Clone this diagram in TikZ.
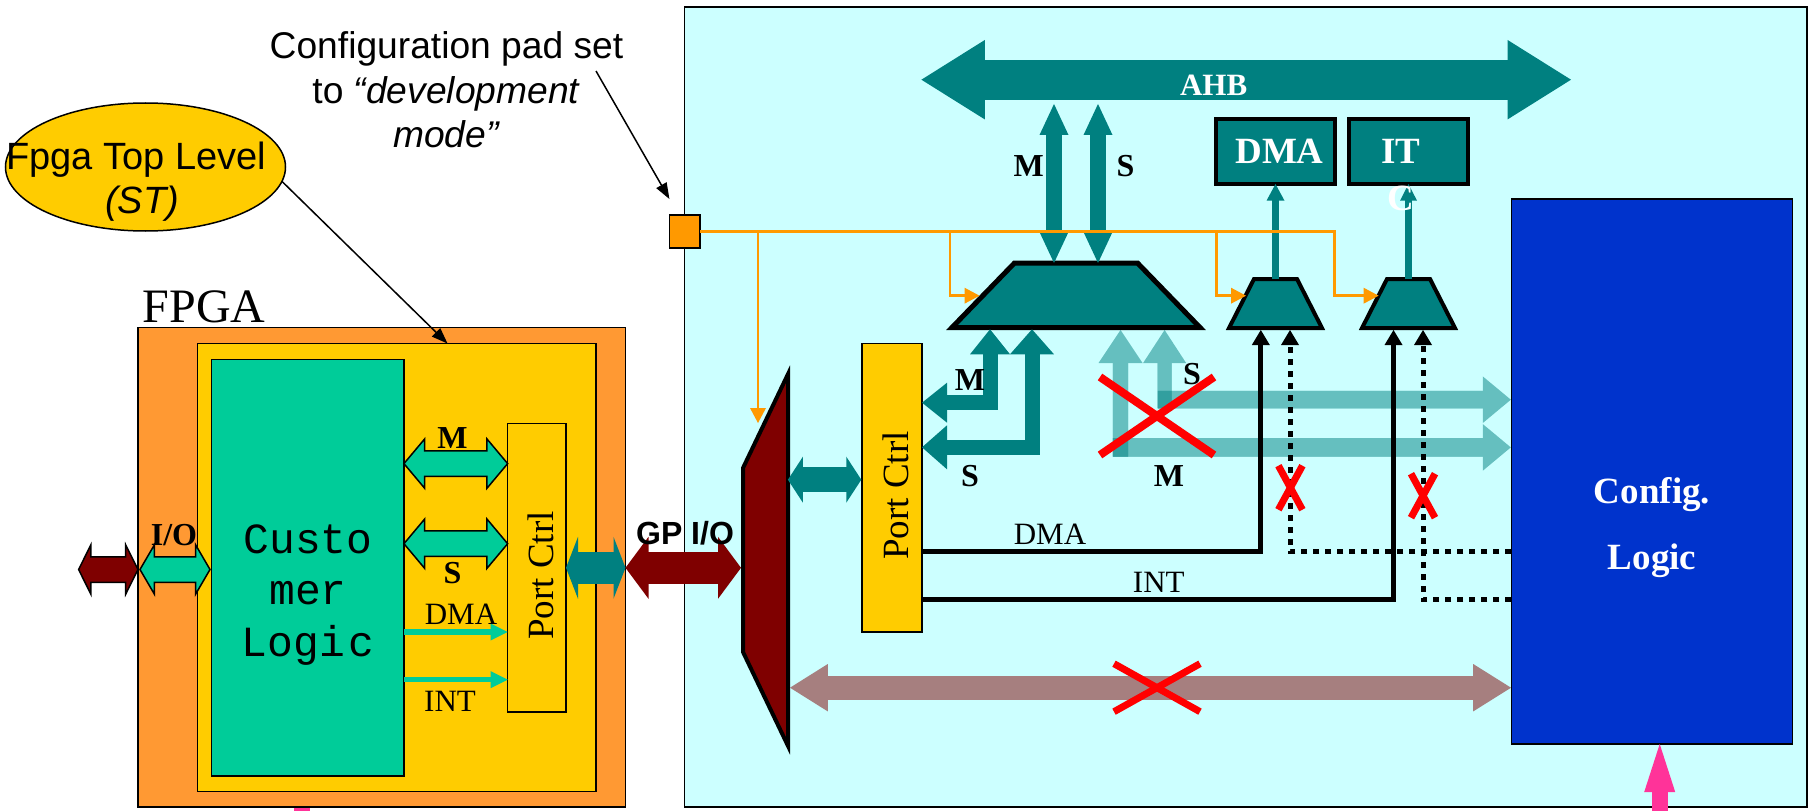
\documentclass[tikz,border=0pt]{standalone}
\usepackage{fontspec}
\setmainfont{Liberation Serif}
\setsansfont{Liberation Sans}
\setmonofont{Liberation Mono}
\usetikzlibrary{arrows.meta,shapes.geometric,shapes.arrows}

\definecolor{panelcyan}{HTML}{CCFFFF}
\definecolor{fpgaorange}{HTML}{FF9933}
\definecolor{coreyellow}{HTML}{FFCC00}
\definecolor{logicgreen}{HTML}{00CC99}
\definecolor{busteal}{HTML}{008080}
\definecolor{iodark}{HTML}{7F0000}
\definecolor{padorange}{HTML}{FF9900}
\definecolor{cfgblue}{HTML}{0033CC}
\definecolor{deadbrown}{HTML}{A67F7F}
\definecolor{pinkin}{HTML}{FF3399}

\tikzset{
  block/.style n args={3}{draw=black,line width=1.5pt,fill=#1,inner sep=0pt,outer sep=0pt,minimum width=#2,minimum height=#3},
  mux/.style n args={4}{draw=black,fill=busteal,line width=#1,trapezium,trapezium left angle=#2,trapezium right angle=#2,inner xsep=#3,inner ysep=#4,outer sep=0pt},
  twoway/.style n args={3}{line width=#1pt,arrows={Triangle[length=#2pt,width=#3pt,line width=0pt]-Triangle[length=#2pt,width=#3pt,line width=0pt]},postaction={draw,arrows=-,shorten <=#2pt-1pt,shorten >=#2pt-1pt}},
  oneway/.style n args={3}{line width=#1pt,arrows={-Triangle[length=#2pt,width=#3pt,line width=0pt]},postaction={draw,arrows=-,shorten >=#2pt-1pt}},
  linebus/.style n args={3}{draw=black,fill=#1,line width=1.5pt,double arrow,double arrow tip angle=#2,double arrow head extend=12pt,inner sep=0pt,inner ysep=12pt,outer sep=0pt,minimum height=#3},
  padline/.style={padorange,oneway={2.7}{15}{16}},
  sigline/.style={black,oneway={5}{15}{18}},
  dotline/.style={sigline,dash pattern=on 6pt off 6pt},
  callout/.style={black,line width=1.5pt,arrows={-Triangle[length=16pt,width=12pt,line width=0pt]}},
  redcross/.style={red,line width=#1},
  lab/.style={font=\fontsize{31}{31}\selectfont,anchor=base,inner sep=0pt},
  boldlab/.style={font=\fontsize{32}{32}\selectfont\bfseries,anchor=base,inner sep=0pt},
  whitelab/.style={font=\fontsize{37}{37}\selectfont\bfseries,text=white,anchor=base,inner sep=0pt},
  portlab/.style={font=\fontsize{37}{37}\selectfont,rotate=90,inner sep=0pt},
  armlab/.style={font=\fontsize{37.2}{44.5}\selectfont\sffamily,align=center,inner sep=0pt},
  toplab/.style={font=\fontsize{38}{38}\selectfont\sffamily,anchor=base,inner sep=0pt}
}

\begin{document}
\begin{tikzpicture}[x=1pt,y=-1pt]
\useasboundingbox (0,0) rectangle (1810,810.5);

% Pink inputs at the foot of the page
\coordinate (stubTop) at (302,800);
\coordinate (stubBot) at (302,812);
\draw [pinkin,line width=16pt] (stubTop) -- (stubBot);

% The two big frames
\node [block={panelcyan}{1122.4}{800}] (panel) at (1245.8,407) {};
\node [block={fpgaorange}{487.5}{479.5}] (fpga) at (381.75,567.25) {};
\node [block={coreyellow}{398.5}{448.2}] (fpgaTop) at (396.75,567.6) {};
\node [block={logicgreen}{192.3}{416.3}] (custLogic) at (307.85,567.85) {};
\node [block={coreyellow}{58.3}{288.5}] (portLeft) at (536.85,567.75) {};
\node [portlab] (portLeftLab) at (540.5,575.6) {Port Ctrl};
\node [font=\fontsize{43}{51.5}\selectfont\ttfamily,align=center,inner sep=0pt] (custLab) at (308,595) {Custo\\mer\\Logi{\fontsize{6}{6}\selectfont\ }c};
\node [lab,font=\fontsize{48}{48}\selectfont] (fpgaLab) at (204,322) {FPGA};

% Buses inside the FPGA
\node [linebus={logicgreen}{100}{103.7}] (mBus) at (455.8,463.6) {};
\node [linebus={logicgreen}{100}{103.7}] (sBus) at (455.8,543.7) {};
\node [linebus={iodark}{127}{59.4}] (extBus) at (108.3,569.5) {};
\node [linebus={logicgreen}{119.5}{70}] (ioBus) at (175,569.5) {};
\coordinate (dmaLeftA) at (404,632);
\coordinate (dmaLeftB) at (507.7,632);
\coordinate (intLeftA) at (404,679.7);
\coordinate (intLeftB) at (507.7,679.7);
\draw [logicgreen,oneway={5.5}{17}{17}] (dmaLeftA) -- (dmaLeftB);
\draw [logicgreen,oneway={5.5}{17}{17}] (intLeftA) -- (intLeftB);
\foreach \lx/\ly/\ltxt/\lname in {452.5/448.5/M/mLab,452.5/583/S/sLab,174/545/I\slash O/ioLab} {
  \node [boldlab] (\lname) at (\lx,\ly) {\ltxt};
}
\node [lab] (dmaLeftLab) at (461,624.4) {DMA};
\node [lab] (intLeftLab) at (450,711) {INT};

% Link from the FPGA to the pad mux
\node [mux={4pt}{25.6}{92pt}{22.5pt},fill=iodark,rotate=90] (padMux) at (765.5,560) {};
\coordinate (gpA) at (566,567.8);
\coordinate (gpB) at (625.5,567.8);
\coordinate (gpC) at (741,567.8);
\draw [busteal,twoway={32}{12}{62}] (gpA) -- (gpB);
\draw [iodark,twoway={32}{23}{62}] (gpB) -- (gpC);
\node [boldlab,font=\fontsize{32}{32}\selectfont\sffamily\bfseries] (gpLab) at (685,544) {GP I/O};

% Top of the panel
\coordinate (ahbL) at (921.4,79.7);
\coordinate (ahbR) at (1571,79.7);
\draw [busteal,twoway={40}{63.4}{79.4}] (ahbL) -- (ahbR);
\node [whitelab,font=\fontsize{31}{31}\selectfont\bfseries] (ahbLab) at (1213.6,96) {AHB};
\node [block={busteal}{119}{65},line width=4.5pt] (dmaBox) at (1275.5,151.5) {};
\node [block={busteal}{119}{65},line width=4.5pt] (itBox) at (1408.5,151.5) {};
\node [whitelab] (dmaLab) at (1279.5,164) {DMA};
\node [whitelab] (itLab) at (1401,164) {IT};

% Muxes
\node [mux={5pt}{45.9}{61.5pt}{32.25pt}] (bigMux) at (1076,295.25) {};
\node [mux={4pt}{63}{21.5pt}{24.5pt}] (dmaMux) at (1275.5,303.5) {};
\node [mux={4pt}{63}{21.5pt}{24.5pt}] (itMux) at (1408.5,303.5) {};

\coordinate (mBusTop) at (1054,104);
\coordinate (mBusBot) at (1054,263);
\coordinate (sBusTop) at (1098,104);
\coordinate (sBusBot) at (1098,263);
\draw [busteal,twoway={15.2}{31}{29}] (mBusTop) -- (mBusBot);
\draw [busteal,twoway={15.2}{31}{29}] (sBusTop) -- (sBusBot);
\draw [busteal,oneway={6.2}{16.7}{18}] (dmaMux.north) -- (dmaBox.south);
\draw [busteal,oneway={6.2}{16.7}{17}] (itMux.north) -- (itBox.south);
\node [whitelab] (itLabB) at (1401,210) {C};
\node [boldlab] (ahbMLab) at (1028.6,176) {M};
\node [boldlab] (ahbSLab) at (1125.4,176) {S};

% The development mode pad and its lines
\node [block={padorange}{30.6}{33}] (cfgPad) at (684.7,231.5) {};
\coordinate (padTee) at (1334.8,231.5);
\coordinate (bigTip) at (979.5,295.7);
\coordinate (dmaTip) at (1246,295.7);
\coordinate (itcTip) at (1378.6,295.7);
\coordinate (bigTee) at (950,231.5);
\coordinate (dmaTee) at (1216.5,231.5);
\coordinate (muxTee) at (758,231.5);
\coordinate (muxTip) at (758,423);
\draw [padline] (cfgPad.east) -- (padTee) |- (itcTip);
\draw [padline] (bigTee) |- (bigTip);
\draw [padline] (dmaTee) |- (dmaTip);
\draw [padline] (muxTee) -- (muxTip);

% Port control on the panel
\node [block={coreyellow}{60.2}{288.7}] (portRight) at (891.9,487.65) {};
\node [portlab] (portRightLab) at (895.6,495.5) {Port Ctrl};
\coordinate (muxLinkA) at (787.9,479.7);
\coordinate (muxLinkB) at (861.3,479.7);
\draw [busteal,twoway={25}{15}{46}] (muxLinkA) -- (muxLinkB);

\coordinate (mPort) at (922,402.7);
\coordinate (mMux) at (990,329.3);
\coordinate (sPort) at (922,447.3);
\coordinate (sMux) at (1032,329.3);
\draw [busteal,twoway={15}{25}{40}] (mPort) -| (mMux);
\draw [busteal,twoway={15}{25}{44}] (sPort) -| (sMux);
\node [boldlab] (portMLab) at (970,390) {M};
\node [boldlab] (portSLab) at (970,486.7) {S};

% Config logic
\node [block={cfgblue}{281}{545}] (cfgLogic) at (1652.2,471.5) {};
\node [whitelab] (cfgLabA) at (1652,503) {Config.};
\node [whitelab] (cfgLabB) at (1652,569) {Logic};
\coordinate (pinkTip) at (1659.7,744);
\coordinate (pinkTail) at (1659.7,812);
\draw [pinkin,oneway={16}{48}{31}] (pinkTail) -- (pinkTip);

% Disabled paths, see through
\coordinate (fadeVaTip) at (1120.5,330);
\coordinate (fadeVaEnd) at (1120.5,456.7);
\coordinate (fadeVbTip) at (1164.6,330);
\coordinate (fadeVbEnd) at (1164.6,408.3);
\coordinate (fadeHaEnd) at (1157.8,399.7);
\coordinate (fadeHaTip) at (1510.8,399.7);
\coordinate (fadeHbEnd) at (1112.8,447.4);
\coordinate (fadeHbTip) at (1510.8,447.4);
\foreach \fa/\fb/\fw/\fl/\fh in {
  fadeVaEnd/fadeVaTip/15.4/33/44,
  fadeVbEnd/fadeVbTip/13.8/33/43,
  fadeHaEnd/fadeHaTip/17.5/28/46.6,
  fadeHbEnd/fadeHbTip/18.5/28/46.6} {
  \begin{scope}[transparency group,opacity=0.5]
    \draw [busteal,oneway={\fw}{\fl}{\fh}] (\fa) -- (\fb);
  \end{scope}
}
\node [boldlab] (fadeMLab) at (1169,486.7) {M};
\node [boldlab] (fadeSLab) at (1192,384) {S};

\coordinate (deadA) at (790,687.7);
\coordinate (deadB) at (1511,687.7);
\draw [deadbrown,twoway={24}{37.8}{47.4}] (deadA) -- (deadB);

% Interrupt and dma wires
\coordinate (dmaOut) at (922,551.7);
\coordinate (dmaIn) at (1260.8,330);
\coordinate (intOut) at (922,599.7);
\coordinate (intIn) at (1393.5,330);
\coordinate (dmaCfg) at (1511,551.7);
\coordinate (dmaDotIn) at (1290,330);
\coordinate (intCfg) at (1511,599.7);
\coordinate (intDotIn) at (1423,330);
\draw [sigline] (dmaOut) -| (dmaIn);
\draw [sigline] (intOut) -| (intIn);
\draw [dotline] (dmaCfg) -| (dmaDotIn);
\draw [dotline] (intCfg) -| (intDotIn);
\node [lab] (dmaWireLab) at (1050,544) {DMA};
\node [lab] (intWireLab) at (1158.8,592) {INT};

% Red crosses
\foreach \cx/\cy/\dx/\dy/\cw in {
  1157/416/57/39/8pt,
  1157/687.7/43/24/7pt,
  1290.4/487.7/12/22/7pt,
  1423/495.7/12/22/7pt} {
  \draw [redcross=\cw] (\cx-\dx,\cy-\dy) -- (\cx+\dx,\cy+\dy);
  \draw [redcross=\cw] (\cx-\dx,\cy+\dy) -- (\cx+\dx,\cy-\dy);
}

% Notes in the top left corner
\node [draw=black,fill=coreyellow,line width=1.5pt,ellipse,inner sep=0pt,outer sep=0pt,minimum width=280,minimum height=128] (topLevel) at (145.5,167) {};
\node [toplab] (topLevelLabA) at (136,170) {Fpga Top Level};
\node [toplab] (topLevelLabB) at (142,213) {\textit{(ST)}};
\coordinate (topTip) at (447.5,343.5);
\draw [callout] (topLevel.-6.5) -- (topTip);

\node [armlab] (padNote) at (446.5,90) {Configuration pad set\\to \textit{“development}\\\textit{mode”}};
\coordinate (padFrom) at (596,71);
\coordinate (padTip) at (669.4,199);
\draw [callout] (padFrom) -- (padTip);

\end{tikzpicture}
\end{document}
